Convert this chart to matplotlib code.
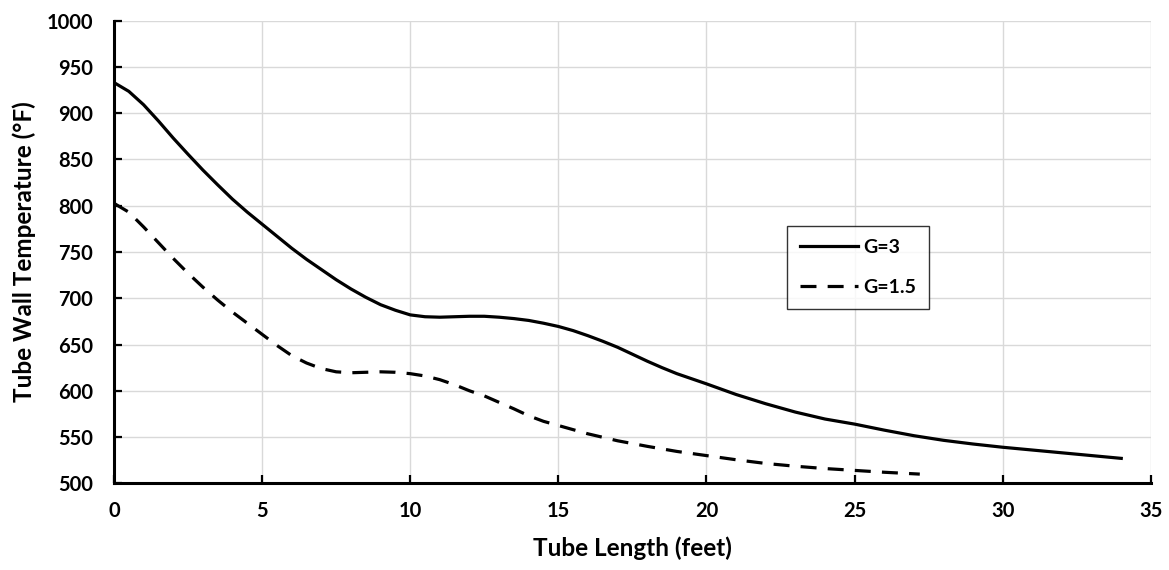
import matplotlib
matplotlib.use('agg')
import matplotlib.pyplot as plt
import numpy as np

# G=3 curve (feet, degF)
x_g3 = [0, 0.5, 1, 1.5, 2, 2.5, 3, 3.5, 4, 4.5, 5, 5.5, 6, 6.5, 7, 7.5, 8,
        8.5, 9, 9.5, 10, 10.5, 11, 11.5, 12, 12.5, 13, 13.5, 14, 14.5, 15,
        15.5, 16, 16.5, 17, 17.5, 18, 18.5, 19, 19.5, 20, 21, 22, 23, 24, 25,
        26, 27, 28, 29, 30, 31, 32, 33, 34]
y_g3 = [933, 923.5, 909, 891.5, 873, 855.5, 838.5, 822.5, 807, 793, 780, 767,
        754, 742, 731, 720, 710, 701, 693, 687, 682, 680, 679.5, 680, 680.5,
        680.5, 679.5, 678, 676, 673, 669.5, 665, 659.5, 653.5, 647, 639.5,
        632, 625, 618.5, 613, 607.5, 596, 586, 577, 569.5, 564, 557.5, 551.5,
        546.5, 542.5, 539, 536, 533, 530, 527]

# G=1.5 curve
x_g15 = [0, 0.5, 1, 1.5, 2, 2.5, 3, 3.5, 4, 4.5, 5, 5.5, 6, 6.5, 7, 7.5, 8,
         8.5, 9, 9.5, 10, 10.5, 11, 11.5, 12, 12.5, 13, 13.5, 14, 14.5, 15,
         15.5, 16, 17, 18, 19, 20, 21, 22, 23, 24, 25, 26, 27.2]
y_g15 = [802.5, 793, 777, 760, 743, 727, 712, 698, 685, 673, 661, 649, 638,
         630, 624, 620.5, 619.5, 620, 620.5, 620, 618.5, 616, 612, 606.5, 600,
         594.5, 587.5, 580.5, 573, 567, 562.5, 558, 553.5, 546, 540, 534.5,
         530, 525.5, 521.5, 518.5, 516, 514, 512, 510]

x_ticks = [0, 5, 10, 15, 20, 25, 30, 35]
y_ticks = [500, 550, 600, 650, 700, 750, 800, 850, 900, 950, 1000]

plt.rcParams['font.family'] = ['Lato', 'DejaVu Sans']

fig = plt.figure(figsize=(11.69, 5.70), dpi=100)
ax = fig.add_axes([0.0975, 0.152, 0.887, 0.812])

ax.plot(x_g3, y_g3, color='black', lw=2.3, label='G=3', solid_joinstyle='round')
ax.plot(x_g15, y_g15, color='black', lw=2.3, dashes=(5, 3.5), label='G=1.5',
        dash_joinstyle='round')

ax.set_xlim(0, 35)
ax.set_ylim(500, 1000)
ax.set_xticks(x_ticks)
ax.set_yticks(y_ticks)
ax.grid(True, color='#d9d9d9', lw=1.0)
ax.set_axisbelow(True)

for s in ['top', 'right']:
    ax.spines[s].set_visible(False)
for s in ['left', 'bottom']:
    ax.spines[s].set_linewidth(2.2)
    ax.spines[s].set_color('black')

ax.tick_params(axis='both', direction='in', length=6, width=1.6, labelsize=14.5)
ax.tick_params(axis='y', pad=15)
ax.tick_params(axis='x', pad=13)
for lbl in ax.get_xticklabels() + ax.get_yticklabels():
    lbl.set_fontweight('bold')

ax.set_xlabel('Tube Length (feet)', fontsize=17.5, fontweight='bold', labelpad=11)
ax.set_ylabel('Tube Wall Temperature (°F)', fontsize=17.5, fontweight='bold', labelpad=8)

leg = ax.legend(loc='upper left', bbox_to_anchor=(0.649, 0.556), fontsize=14,
                frameon=True, fancybox=False, handlelength=3.0, handletextpad=0.3,
                labelspacing=1.2, borderpad=0.65, borderaxespad=0)
leg.get_frame().set_edgecolor('black')
leg.get_frame().set_linewidth(1.0)
for t in leg.get_texts():
    t.set_fontweight('bold')

fig.savefig('out.png', dpi=100)
